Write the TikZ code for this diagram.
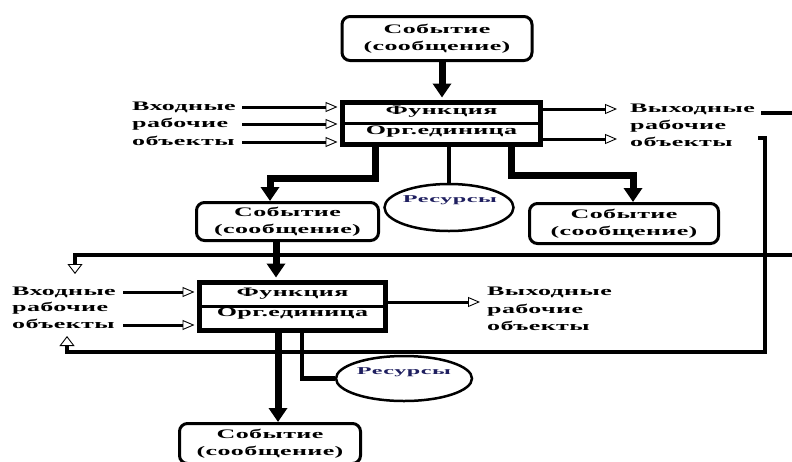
\documentclass[tikz,border=0pt]{standalone}
\usepackage{fontspec}
\usetikzlibrary{arrows.meta,shapes.geometric}
\newfontfamily\cour{Liberation Serif}[FakeStretch=2.0, LetterSpace=3]
\newfontfamily\courR{Liberation Serif}[FakeStretch=2.3, LetterSpace=5]
\definecolor{resblue}{RGB}{30,30,95}
\tikzset{
  txtfont/.style={font=\cour\bfseries\fontsize{13}{17.5}\selectfont},
  evbox/.style={draw, line width=3pt, rounded corners=8pt, inner sep=0pt, align=center, txtfont},
  fbox/.style={draw, line width=5pt, inner sep=0pt},
  lbl/.style={inner sep=0pt, txtfont, anchor=west, text height=9pt, text depth=3pt},
  ftxt/.style={inner sep=0pt, txtfont, text height=9pt, text depth=3pt},
  resell/.style={draw, ellipse, line width=2.5pt, inner sep=0pt},
  restxt/.style={inner sep=0pt, text=resblue, font=\courR\bfseries\fontsize{10.5}{12}\selectfont},
  bigarr/.style={line width=7pt, -{Triangle[width=18pt,length=14pt]}},
  inarr/.style={line width=3pt, -{Triangle[open, width=10pt, length=12pt, line width=0.9pt]}},
  looparr/.style={line width=3.5pt, -{Triangle[open, width=15pt, length=10pt, line width=0.9pt]}},
  loopline/.style={line width=3.5pt},
  resline/.style={line width=3.5pt},
  divider/.style={line width=2.5pt},
}
\begin{document}
\begin{tikzpicture}[x=1pt,y=-1pt]
\fill[white] (0,0) rectangle (792,461);
\useasboundingbox (0,0) rectangle (792,461);

% ---------- nodes ----------
\node[evbox, minimum width=190pt, minimum height=44pt] (ev1) at (437,38.5) {Событие\\(сообщение)};

\node[fbox, minimum width=198pt, minimum height=42pt] (f1) at (441.5,123.5) {};
\draw[divider] (f1.west) -- (f1.east);
\node[ftxt] (f1a) at ([yshift=12.5pt]f1.center) {Функция};
\node[ftxt] (f1b) at ([yshift=-7.5pt]f1.center) {Орг.единица};

\node[lbl] (in1a) at (132,107) {Входные};
\node[lbl] (in1b) at (132,124) {рабочие};
\node[lbl] (in1c) at (132,142) {объекты};

\node[lbl] (out1a) at (630,109) {Выходные};
\node[lbl] (out1b) at (630,126) {рабочие};
\node[lbl] (out1c) at (630,143) {объекты};

\node[evbox, minimum width=182pt, minimum height=38pt] (ev2) at (287.5,221.5) {Событие\\(сообщение)};
\node[evbox, minimum width=189pt, minimum height=40pt] (ev3) at (624,223.5) {Событие\\(сообщение)};

\node[resell, minimum width=129pt, minimum height=47pt] (res1) at (449,207.5) {};
\node[restxt] (res1t) at (450,200) {Ресурсы};

\node[fbox, minimum width=186pt, minimum height=48pt] (f2) at (292.5,306.5) {};
\draw[divider] (f2.west) -- (f2.east);
\node[ftxt] (f2a) at ([yshift=13.5pt]f2.center) {Функция};
\node[ftxt] (f2b) at ([yshift=-6.5pt]f2.center) {Орг.единица};

\node[lbl] (in2a) at (12,292) {Входные};
\node[lbl] (in2b) at (12,308) {рабочие};
\node[lbl] (in2c) at (12,325) {объекты};

\node[lbl] (out2a) at (487,292) {Выходные};
\node[lbl] (out2b) at (487,310) {рабочие};
\node[lbl] (out2c) at (487,327) {объекты};

\node[resell, minimum width=136pt, minimum height=45pt] (res2) at (404,378.5) {};
\node[restxt] (res2t) at (404,372) {Ресурсы};

\node[evbox, minimum width=181pt, minimum height=40pt] (ev4) at (270,443.5) {Событие\\(сообщение)};

% ---------- helper coordinates ----------
\coordinate (xa) at (442,80);
\coordinate (k1) at (375,178);
\coordinate (k2) at (270,178);
\coordinate (k3) at (511,175);
\coordinate (k4) at (633,175);
\coordinate (xb) at (276,260);
\coordinate (xc) at (278,380);
\coordinate (k7) at (302,378.5);
\coordinate (y139) at (0,139);
\coordinate (y302) at (0,302);
\coordinate (y113) at (0,113);
\coordinate (edgeA) at (792,113);
\coordinate (b1) at (758,138);
\coordinate (b2) at (765,138);
\coordinate (b3) at (765,352);
\coordinate (b4) at (67,352);
\coordinate (tipA) at (67,336);
\coordinate (edgeB) at (792,255);
\coordinate (c1) at (75,255);
\coordinate (tipB) at (75,274);

% ---------- thick event arrows ----------
\draw[bigarr] (ev1.south -| xa) -- ([yshift=2.5pt]f1.north -| xa);
\draw[bigarr] (f1.south -| k1) -- (k1) -- (k2) -- (ev2.north -| k2);
\draw[bigarr] (f1.south -| k3) -- (k3) -- (k4) -- (ev3.north -| k4);
\draw[bigarr] (ev2.south -| xb) -- ([yshift=2.5pt]f2.north -| xb);
\draw[bigarr] (f2.south -| xc) -- (ev4.north -| xc);

% ---------- resources ----------
\draw[resline] (f1.south -| res1.north) -- (res1.north);
\draw[resline, line width=4.5pt] (f2.south -| k7) -- (k7) -- (res2.west);

% ---------- inputs / outputs ----------
\draw[inarr] (in1a.east -| 242,0) -- ([xshift=-2.5pt]f1.west |- in1a.east);
\draw[inarr] (in1b.east -| 242,0) -- ([xshift=-2.5pt]f1.west |- in1b.east);
\draw[inarr] (in1c.east -| 242,0) -- ([xshift=-2.5pt]f1.west |- in1c.east);

\draw[inarr] (f1.east |- out1a.west) -- ([xshift=-13pt]out1a.west);
\draw[inarr] (f1.east |- y139) -- ([xshift=-13pt]out1a.west |- y139);

\draw[inarr] (in2a.east -| 123,0) -- ([xshift=-2.5pt]f2.west |- in2a.east);
\draw[inarr] (in2c.east -| 123,0) -- ([xshift=-2.5pt]f2.west |- in2c.east);

\draw[inarr] (f2.east |- y302) -- ([xshift=-7pt]out2a.west |- y302);

% ---------- feedback lines ----------
\draw[loopline] ([xshift=6pt]out1a.east |- y113) -- (edgeA);
\draw[looparr] (b1) -- (b2) -- (b3) -- (b4) -- (tipA);
\draw[looparr] (edgeB) -- (c1) -- (tipB);
\end{tikzpicture}
\end{document}
